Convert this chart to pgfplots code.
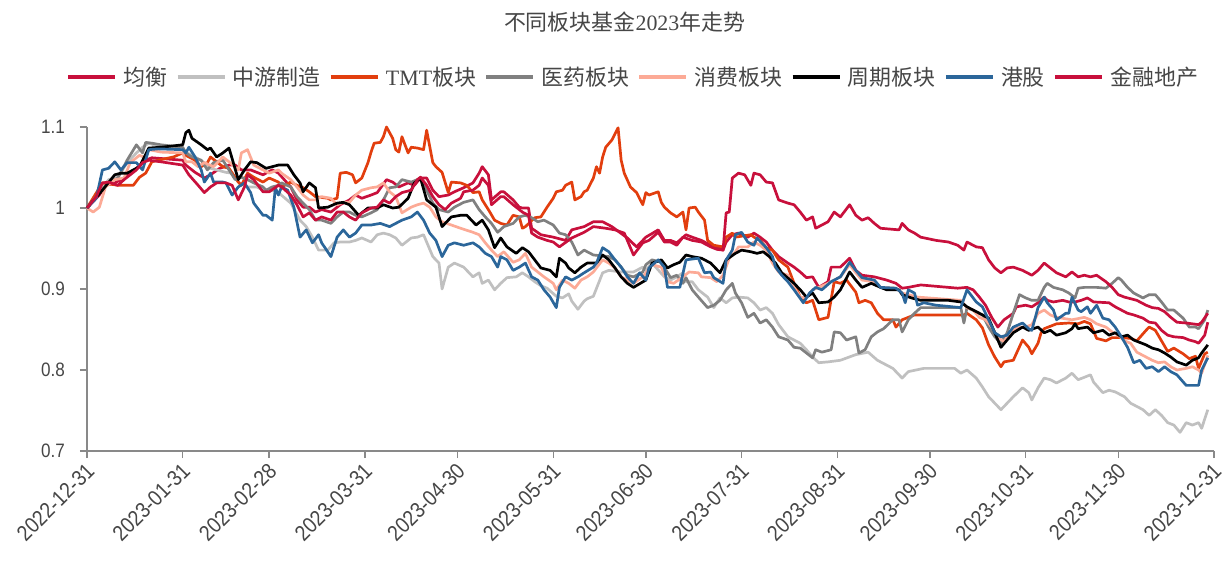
\documentclass[border=0pt]{standalone}
\usepackage{fontspec}
\setmainfont{Liberation Serif}
\newfontfamily\cjk{Noto Sans CJK SC}
\newfontfamily\ticksf[FakeStretch=0.88]{Liberation Sans}
\usepackage{pgfplots}
\pgfplotsset{compat=1.18}

\definecolor{crim}{RGB}{200,16,60}
\definecolor{lgray}{RGB}{192,192,192}
\definecolor{tmt}{RGB}{226,62,14}
\definecolor{dgray}{RGB}{128,128,128}
\definecolor{salmon}{RGB}{252,170,150}
\definecolor{hk}{RGB}{43,102,154}
\definecolor{axgray}{RGB}{137,137,137}
\definecolor{txt}{RGB}{70,70,70}

\begin{document}
\begin{tikzpicture}
\useasboundingbox (-87bp,-116bp) rectangle (1137bp,451bp);
\begin{axis}[
at={(0,0)}, anchor=south west,
scale only axis, width=1127bp, height=324bp,
xmin=0, xmax=365, ymin=0.7, ymax=1.1,
clip=false,
axis x line*=bottom, axis y line*=left,
axis line style={-, draw=axgray, line width=1.6bp},
x axis line style={line width=2.4bp},
tick align=outside,
major tick length=7bp,
tick style={draw=axgray, line width=1.4bp},
xtick={0,31,59,90,120,151,181,212,243,273,304,334,365},
xticklabels={2022-12-31,2023-01-31,2023-02-28,2023-03-31,2023-04-30,2023-05-31,2023-06-30,2023-07-31,2023-08-31,2023-09-30,2023-10-31,2023-11-30,2023-12-31},
ytick={0.7,0.8,0.9,1,1.1},
yticklabels={0.7,0.8,0.9,1,1.1},
xticklabel style={rotate=45, anchor=north east, inner sep=1bp, xshift=-3bp, font=\ticksf\fontsize{22}{24}\selectfont, text=txt},
yticklabel style={font=\ticksf\fontsize{19.5}{22}\selectfont, text=txt, inner sep=2bp, xshift=-13bp},
every axis plot/.append style={line width=2.7bp, line join=round},
legend image code/.code={\draw[#1, line width=4.5bp] (0bp,0bp) -- (47bp,0bp);},
legend style={draw=none, fill=none, at={(rel axis cs:0.4845,1.154)}, anchor=center,
  legend columns=-1, font=\cjk\fontsize{22}{25}\selectfont, text=txt,
  nodes={inner xsep=2bp, inner ysep=1bp},
  /tikz/every odd column/.append style={column sep=4bp},
  /tikz/every even column/.append style={column sep=6bp}},
]
% 均衡
\addplot[crim] table {
0 1.000
4 1.016
6 1.028
9 1.031
12 1.037
16 1.049
19 1.059
21 1.062
31 1.059
32 1.053
35 1.044
38 1.037
40 1.041
43 1.049
46 1.053
48 1.053
50 1.047
53 1.047
57 1.041
60 1.047
62 1.043
66 1.026
68 1.010
70 1.001
72 1.001
74 0.995
76 0.998
79 0.995
82 1.004
85 1.010
87 1.016
89 1.012
92 1.016
94 1.019
97 1.035
99 1.032
101 1.026
104 1.031
106 1.028
108 1.037
110 1.037
112 1.022
114 1.014
117 1.016
119 1.020
122 1.025
125 1.031
127 1.043
128 1.051
130 1.041
131 1.010
134 1.020
135 1.020
138 1.010
140 1.001
141 1.000
143 1.000
144 0.975
147 0.967
151 0.964
155 0.960
157 0.973
161 0.977
164 0.983
167 0.983
170 0.977
175 0.963
178 0.952
181 0.964
185 0.973
187 0.960
189 0.960
191 0.957
194 0.967
196 0.964
199 0.960
202 0.954
204 0.952
206 0.948
207 0.958
209 0.967
211 0.969
214 0.964
216 0.969
218 0.964
220 0.958
222 0.948
224 0.940
227 0.932
229 0.927
231 0.921
233 0.914
235 0.915
237 0.902
240 0.909
241 0.927
244 0.927
247 0.938
249 0.923
251 0.917
255 0.915
259 0.911
262 0.907
264 0.901
266 0.902
270 0.905
279 0.902
282 0.901
285 0.902
287 0.899
289 0.890
291 0.880
293 0.865
295 0.853
297 0.862
300 0.870
301 0.878
304 0.880
306 0.878
308 0.883
310 0.890
311 0.886
313 0.884
316 0.886
318 0.884
320 0.884
322 0.886
324 0.889
326 0.884
331 0.883
333 0.878
335 0.874
337 0.870
339 0.868
342 0.864
344 0.859
346 0.858
348 0.849
350 0.843
352 0.841
355 0.840
357 0.837
359 0.835
360 0.833
362 0.843
363 0.859
};
\addlegendentry{均衡}
% 中游制造
\addplot[lgray] table {
0 1.000
4 1.020
7 1.035
10 1.038
13 1.056
16 1.068
18 1.075
20 1.080
24 1.075
31 1.074
32 1.069
35 1.063
38 1.056
40 1.049
42 1.047
45 1.044
47 1.043
49 1.032
52 1.026
55 1.026
58 1.020
61 1.022
62 1.019
66 1.006
69 0.985
71 0.977
73 0.964
75 0.948
78 0.948
80 0.957
82 0.958
85 0.958
87 0.960
89 0.963
92 0.958
94 0.967
96 0.969
98 0.967
100 0.963
102 0.954
105 0.963
107 0.964
109 0.967
110 0.958
112 0.940
114 0.932
115 0.900
117 0.927
119 0.932
122 0.927
125 0.915
127 0.920
128 0.907
130 0.911
132 0.899
134 0.907
136 0.914
139 0.915
141 0.920
143 0.915
145 0.909
147 0.904
149 0.901
152 0.891
154 0.889
156 0.894
157 0.885
159 0.875
161 0.885
162 0.888
164 0.891
167 0.920
169 0.923
173 0.921
177 0.921
180 0.927
181 0.923
183 0.932
187 0.915
189 0.911
191 0.915
193 0.920
194 0.909
196 0.909
198 0.899
201 0.890
203 0.877
205 0.889
207 0.883
209 0.889
211 0.890
214 0.889
216 0.883
218 0.874
220 0.877
222 0.870
224 0.856
227 0.841
229 0.837
231 0.833
233 0.825
235 0.816
237 0.809
240 0.810
244 0.812
249 0.819
253 0.822
256 0.812
261 0.802
264 0.790
266 0.798
271 0.802
281 0.802
283 0.796
285 0.800
288 0.790
290 0.779
292 0.767
294 0.759
296 0.751
298 0.759
300 0.767
303 0.778
305 0.772
306 0.763
308 0.778
310 0.790
312 0.788
314 0.784
317 0.790
319 0.796
321 0.788
323 0.791
325 0.794
326 0.785
329 0.772
331 0.775
333 0.773
336 0.767
338 0.759
342 0.751
344 0.744
346 0.751
348 0.744
350 0.735
352 0.732
354 0.723
356 0.735
358 0.732
360 0.735
361 0.728
363 0.751
};
\addlegendentry{中游制造}
% TMT
\addplot[tmt] table {
0 1.000
5 1.031
10 1.028
15 1.028
17 1.038
19 1.043
21 1.057
23 1.059
28 1.063
31 1.068
32 1.065
35 1.059
37 1.051
39 1.056
40 1.063
42 1.057
44 1.051
46 1.049
49 1.032
50 1.028
52 1.043
54 1.038
57 1.032
59 1.037
62 1.032
63 1.026
66 1.032
68 1.028
70 1.025
72 1.020
74 1.014
78 1.012
79 1.010
81 1.012
82 1.043
84 1.044
86 1.041
87 1.031
89 1.037
91 1.056
92 1.069
93 1.080
95 1.081
96 1.088
97 1.100
99 1.086
100 1.072
101 1.069
102 1.088
104 1.068
105 1.075
107 1.074
109 1.072
110 1.096
112 1.056
113 1.051
115 1.044
117 1.019
118 1.032
121 1.031
123 1.028
125 1.019
127 1.020
128 1.010
130 0.998
132 0.985
134 0.981
136 0.979
138 0.991
140 0.989
141 0.975
142 0.977
145 0.988
147 0.989
149 1.001
151 1.012
152 1.020
154 1.022
155 1.028
157 1.032
158 1.010
160 1.014
161 1.020
162 1.022
164 1.037
165 1.051
166 1.043
167 1.063
168 1.075
170 1.084
172 1.099
173 1.059
174 1.043
176 1.026
178 1.019
180 1.004
181 1.019
182 1.016
185 1.020
186 1.007
187 1.001
189 0.994
191 0.989
193 0.995
194 0.973
195 1.000
197 1.001
198 0.995
200 0.985
201 0.960
203 0.954
206 0.952
207 0.964
209 0.969
210 0.964
215 0.967
216 0.964
218 0.960
220 0.951
222 0.948
224 0.936
227 0.927
229 0.907
231 0.890
233 0.883
235 0.886
237 0.862
240 0.865
242 0.909
244 0.907
246 0.911
249 0.896
250 0.883
252 0.886
254 0.883
256 0.870
258 0.862
261 0.862
262 0.853
264 0.862
266 0.865
268 0.868
282 0.868
284 0.868
285 0.870
288 0.862
290 0.852
292 0.831
294 0.816
296 0.804
297 0.810
300 0.812
303 0.837
305 0.828
306 0.820
308 0.833
309 0.846
310 0.851
312 0.854
314 0.857
318 0.858
321 0.857
323 0.860
325 0.857
327 0.839
330 0.836
332 0.840
335 0.840
338 0.839
340 0.836
343 0.849
344 0.853
346 0.849
348 0.836
350 0.823
352 0.827
355 0.820
357 0.814
359 0.817
360 0.802
362 0.820
363 0.822
};
\addlegendentry{{\rmfamily TMT}板块}
% 医药
\addplot[dgray] table {
0 1.000
4 1.019
7 1.031
10 1.037
13 1.059
16 1.078
18 1.068
19 1.081
21 1.080
24 1.078
31 1.075
32 1.068
34 1.063
37 1.059
39 1.047
41 1.056
44 1.059
46 1.047
48 1.035
50 1.038
52 1.035
54 1.031
57 1.026
58 1.022
60 1.026
62 1.028
63 1.031
66 1.026
68 1.014
70 1.006
72 0.998
74 0.985
76 0.985
79 0.981
81 0.989
83 0.995
85 0.995
87 0.991
89 0.989
92 0.994
94 0.998
96 1.010
98 1.025
100 1.026
102 1.035
105 1.032
107 1.035
108 1.037
110 1.022
112 1.006
114 0.998
117 0.995
119 1.001
122 1.007
125 1.010
127 0.998
129 0.989
131 0.981
133 0.970
135 0.977
138 0.981
140 0.989
142 0.991
144 0.988
146 0.983
148 0.985
151 0.979
153 0.969
155 0.967
157 0.958
159 0.942
161 0.948
162 0.946
164 0.942
169 0.940
171 0.936
173 0.927
175 0.917
177 0.915
180 0.921
181 0.930
183 0.936
186 0.933
189 0.914
191 0.917
193 0.907
194 0.914
196 0.899
198 0.890
201 0.877
203 0.880
205 0.886
207 0.899
209 0.907
210 0.895
212 0.883
214 0.865
216 0.870
218 0.858
220 0.862
222 0.853
224 0.841
227 0.837
229 0.828
231 0.827
233 0.821
235 0.815
236 0.825
238 0.822
241 0.825
242 0.847
244 0.846
246 0.837
249 0.841
250 0.821
252 0.825
254 0.841
256 0.847
258 0.851
261 0.862
263 0.862
264 0.847
266 0.862
268 0.870
270 0.877
283 0.877
284 0.858
285 0.877
288 0.872
290 0.868
292 0.853
294 0.841
296 0.833
298 0.846
300 0.870
302 0.893
304 0.889
306 0.886
308 0.886
310 0.902
311 0.907
313 0.902
316 0.899
318 0.895
320 0.889
321 0.901
323 0.902
327 0.902
330 0.901
332 0.907
334 0.914
335 0.911
337 0.902
339 0.895
342 0.889
344 0.893
346 0.893
348 0.884
350 0.874
352 0.874
355 0.864
357 0.853
359 0.853
360 0.851
362 0.862
363 0.874
};
\addlegendentry{医药板块}
% 消费
\addplot[salmon] table {
0 1.000
2 0.995
4 1.001
6 1.026
9 1.035
12 1.037
14 1.056
17 1.065
19 1.062
20 1.072
24 1.069
31 1.068
32 1.057
34 1.057
36 1.051
38 1.056
41 1.051
44 1.063
46 1.057
49 1.047
50 1.068
52 1.072
54 1.053
57 1.047
59 1.043
62 1.047
63 1.043
66 1.035
68 1.026
70 1.016
72 1.010
74 1.010
76 1.014
79 1.012
81 1.004
83 1.007
85 1.007
87 1.016
89 1.022
92 1.025
94 1.026
96 1.031
98 1.020
100 1.014
102 0.994
105 1.001
107 1.004
109 1.006
111 1.001
113 0.989
115 0.983
118 0.979
121 0.975
125 0.970
127 0.967
129 0.957
131 0.948
133 0.940
135 0.946
138 0.933
140 0.936
142 0.944
144 0.927
146 0.921
148 0.915
151 0.907
152 0.899
154 0.911
156 0.907
158 0.901
160 0.911
162 0.915
164 0.921
167 0.936
169 0.932
171 0.926
173 0.915
175 0.911
177 0.907
180 0.915
183 0.930
186 0.927
188 0.909
190 0.907
193 0.915
195 0.921
198 0.920
199 0.915
202 0.914
204 0.909
206 0.917
208 0.938
210 0.946
211 0.952
214 0.952
216 0.958
218 0.954
220 0.948
222 0.932
224 0.921
227 0.917
229 0.902
231 0.890
233 0.889
235 0.899
237 0.902
240 0.907
244 0.915
247 0.930
249 0.920
251 0.911
255 0.909
257 0.902
262 0.901
264 0.895
266 0.893
269 0.890
283 0.886
285 0.877
287 0.874
289 0.865
291 0.862
293 0.853
295 0.840
297 0.835
298 0.841
301 0.852
304 0.853
306 0.856
308 0.870
310 0.874
312 0.868
314 0.865
319 0.862
323 0.865
325 0.862
327 0.857
330 0.853
332 0.847
334 0.843
336 0.836
338 0.833
340 0.822
343 0.816
345 0.812
347 0.809
349 0.810
351 0.804
353 0.800
356 0.802
358 0.804
360 0.800
361 0.796
363 0.818
};
\addlegendentry{消费板块}
% 周期
\addplot[black] table {
0 1.000
5 1.022
9 1.041
11 1.043
13 1.043
17 1.051
20 1.074
24 1.075
31 1.078
32 1.093
33 1.096
34 1.086
37 1.078
39 1.072
40 1.074
42 1.063
44 1.068
46 1.074
49 1.035
51 1.047
53 1.057
55 1.056
58 1.049
60 1.051
62 1.053
65 1.053
67 1.041
69 1.031
70 1.020
72 1.031
74 1.025
75 1.000
78 1.001
81 1.006
83 1.007
85 1.004
88 0.991
91 1.000
94 1.000
96 1.004
99 1.000
101 1.001
104 1.012
106 1.031
108 1.037
110 1.010
113 1.001
115 0.977
118 0.989
121 0.991
123 0.991
126 0.979
128 0.985
130 0.973
132 0.951
134 0.963
136 0.952
139 0.944
141 0.951
143 0.946
145 0.936
147 0.926
150 0.923
152 0.915
153 0.938
155 0.932
156 0.926
158 0.920
160 0.927
162 0.932
165 0.932
167 0.942
169 0.936
171 0.926
173 0.915
175 0.907
177 0.902
181 0.911
183 0.932
186 0.936
188 0.926
190 0.930
192 0.933
194 0.942
196 0.940
199 0.938
202 0.932
205 0.920
207 0.936
210 0.944
212 0.948
215 0.946
217 0.944
219 0.946
221 0.940
223 0.932
225 0.920
229 0.907
231 0.899
233 0.890
235 0.895
237 0.883
240 0.884
242 0.890
244 0.899
247 0.921
249 0.911
251 0.902
254 0.907
257 0.902
259 0.899
263 0.899
264 0.893
267 0.889
270 0.886
279 0.886
283 0.884
285 0.878
288 0.872
290 0.868
292 0.864
294 0.846
296 0.828
298 0.837
300 0.846
303 0.853
305 0.849
308 0.853
310 0.846
312 0.849
314 0.843
317 0.846
319 0.851
320 0.857
321 0.851
324 0.853
326 0.846
329 0.849
331 0.843
333 0.846
335 0.841
337 0.843
339 0.837
343 0.831
345 0.827
347 0.825
349 0.821
351 0.816
353 0.810
356 0.806
358 0.812
360 0.815
361 0.821
363 0.831
};
\addlegendentry{周期板块}
% 港股
\addplot[hk] table {
0 1.000
3 1.012
5 1.047
7 1.049
9 1.057
11 1.047
13 1.056
16 1.056
18 1.047
20 1.072
23 1.073
31 1.072
32 1.068
33 1.075
35 1.063
37 1.047
38 1.032
40 1.043
41 1.032
44 1.032
45 1.031
47 1.016
49 1.026
51 1.031
53 1.019
54 1.006
57 0.991
58 0.991
60 0.985
61 1.025
62 1.016
63 1.026
65 1.022
67 1.001
69 0.964
71 0.973
73 0.957
75 0.967
76 0.957
79 0.940
81 0.964
83 0.973
85 0.964
87 0.969
89 0.979
92 0.979
95 0.981
98 0.977
100 0.981
102 0.985
105 0.989
107 0.995
109 0.985
111 0.969
113 0.960
115 0.940
117 0.954
119 0.957
122 0.954
125 0.957
127 0.952
129 0.944
131 0.940
133 0.927
134 0.940
136 0.936
138 0.923
140 0.927
142 0.932
144 0.915
146 0.911
148 0.899
150 0.890
152 0.877
153 0.902
155 0.915
157 0.911
159 0.915
161 0.920
164 0.927
165 0.932
167 0.951
169 0.946
171 0.936
173 0.927
175 0.915
177 0.907
179 0.920
181 0.911
182 0.926
185 0.936
187 0.927
188 0.902
192 0.902
194 0.936
198 0.938
200 0.920
202 0.921
203 0.914
206 0.907
207 0.936
209 0.948
210 0.967
212 0.970
214 0.958
216 0.954
217 0.963
220 0.951
222 0.940
223 0.927
225 0.917
227 0.909
229 0.899
232 0.883
234 0.895
236 0.902
238 0.899
241 0.909
244 0.915
247 0.933
249 0.923
251 0.914
255 0.911
257 0.902
262 0.901
264 0.895
265 0.883
266 0.899
268 0.895
269 0.880
271 0.883
275 0.880
283 0.877
285 0.899
288 0.884
290 0.878
292 0.862
294 0.846
296 0.841
298 0.843
300 0.853
303 0.858
305 0.851
306 0.849
308 0.877
310 0.890
311 0.883
313 0.874
314 0.862
317 0.870
318 0.870
319 0.890
321 0.874
322 0.872
324 0.878
325 0.870
327 0.880
329 0.864
331 0.862
333 0.853
335 0.841
337 0.828
339 0.809
341 0.812
343 0.802
345 0.804
347 0.798
349 0.804
351 0.798
353 0.794
356 0.781
360 0.781
361 0.800
363 0.815
};
\addlegendentry{港股}
% 金融地产
\addplot[crim] table {
0 1.000
3 1.014
5 1.031
7 1.032
10 1.028
12 1.035
16 1.047
18 1.056
20 1.059
24 1.057
31 1.053
32 1.047
33 1.041
36 1.028
38 1.019
40 1.026
42 1.031
45 1.031
47 1.028
49 1.010
51 1.026
52 1.041
54 1.035
57 1.020
59 1.020
62 1.028
63 1.026
66 1.016
68 1.004
70 0.989
72 0.994
74 0.985
76 0.989
79 0.985
81 0.995
83 0.995
85 0.989
87 0.985
89 0.994
92 1.000
94 1.001
96 1.010
98 1.006
100 1.014
102 1.019
105 1.022
107 1.035
108 1.038
110 1.028
112 1.014
114 1.004
116 0.998
118 1.006
121 1.012
122 1.020
125 1.022
127 1.028
128 1.037
130 1.028
131 1.004
134 1.014
135 1.014
138 1.004
140 0.998
141 0.995
143 0.991
144 0.969
146 0.964
149 0.960
151 0.958
153 0.952
157 0.963
161 0.970
164 0.977
168 0.975
171 0.973
174 0.969
177 0.942
180 0.957
182 0.960
185 0.970
187 0.958
189 0.958
191 0.954
193 0.964
196 0.960
199 0.958
202 0.952
204 0.949
206 0.948
207 0.994
208 0.995
209 1.037
211 1.043
213 1.041
215 1.028
216 1.043
218 1.041
220 1.032
222 1.031
224 1.010
227 1.006
229 1.004
231 0.995
233 0.985
235 0.989
236 0.975
240 0.983
242 0.995
244 0.989
247 1.004
249 0.991
251 0.985
253 0.988
255 0.981
257 0.975
263 0.973
264 0.981
266 0.973
268 0.969
270 0.964
275 0.960
279 0.958
282 0.954
284 0.948
285 0.958
288 0.952
290 0.951
292 0.936
294 0.926
296 0.920
298 0.926
300 0.927
303 0.923
306 0.917
308 0.923
310 0.932
312 0.926
314 0.920
317 0.915
319 0.921
321 0.915
323 0.917
325 0.915
327 0.917
330 0.909
332 0.902
334 0.893
336 0.890
340 0.886
343 0.880
345 0.877
347 0.876
349 0.872
351 0.865
353 0.859
356 0.858
360 0.856
361 0.859
363 0.870
};
\addlegendentry{金融地产}
\node[font=\cjk\fontsize{22}{25}\selectfont, text=txt] at (rel axis cs:0.477,1.324) {不同板块基金{\rmfamily 2023}年走势};
\end{axis}
\end{tikzpicture}
\end{document}
